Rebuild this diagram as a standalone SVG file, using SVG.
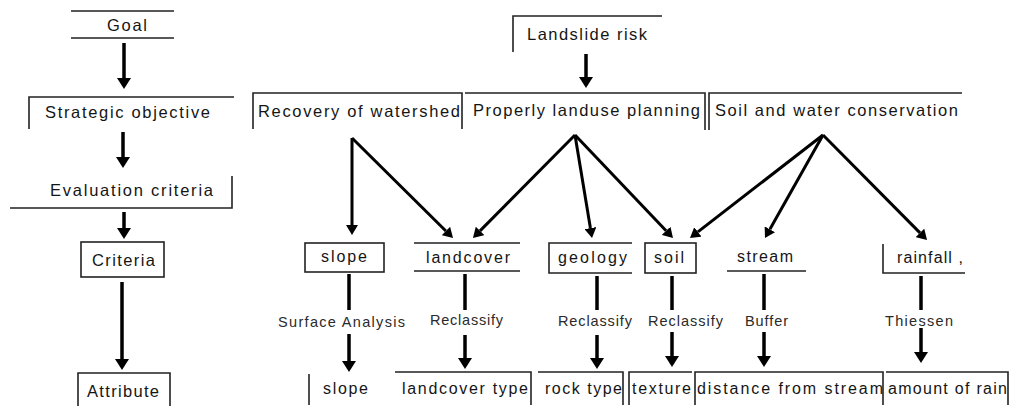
<svg xmlns="http://www.w3.org/2000/svg" width="1010" height="408" viewBox="0 0 1010 408">
<style>
text{font-family:"Liberation Sans",Arial,sans-serif;font-size:16.5px;fill:#151515}
.m{fill:#2a2a2a;font-size:14.5px}
.c{font-size:16px}
.b{fill:none;stroke:#222;stroke-width:1.6}
.a{fill:none;stroke:#000;stroke-width:3.5}
.d{fill:none;stroke:#000;stroke-width:3}
</style>
<defs>
<marker id="ah" markerUnits="userSpaceOnUse" markerWidth="11" markerHeight="14" viewBox="0 0 11 14" refX="0" refY="7" orient="auto"><path d="M0,0 L11,7 L0,14 z" fill="#000"/></marker>
<marker id="ad" markerUnits="userSpaceOnUse" markerWidth="10" markerHeight="12" viewBox="0 0 10 12" refX="0" refY="6" orient="auto"><path d="M0,0 L10,6 L0,12 z" fill="#000"/></marker>
</defs>
<rect width="1010" height="408" fill="#fff"/>

<g id="goal"><path class="b" d="M71,11 H174 M71,38 H174"/><text x="107" y="31" textLength="40" lengthAdjust="spacing">Goal</text></g>
<g id="strategic"><path class="b" d="M29,129 V97 H234"/><text x="45" y="118" textLength="165" lengthAdjust="spacing">Strategic objective</text></g>
<g id="evaluation"><path class="b" d="M10,208 H232 V176"/><text x="50" y="196" textLength="163" lengthAdjust="spacing">Evaluation criteria</text></g>
<g id="criteria"><rect class="b" x="81" y="242" width="83" height="35"/><text x="92" y="266" textLength="63" lengthAdjust="spacing">Criteria</text></g>
<g id="attribute"><path class="b" d="M78,406 V373 H170 V406"/><text x="87" y="397" textLength="72" lengthAdjust="spacing">Attribute</text></g>

<g id="landslide"><path class="b" d="M513,52 V16 H662"/><text x="527" y="40" textLength="120" lengthAdjust="spacing">Landslide risk</text></g>
<g id="recovery"><path class="b" d="M253,129 V93 H462 V129"/><text x="258" y="117" textLength="202" lengthAdjust="spacing">Recovery of watershed</text></g>
<g id="properly"><path class="b" d="M465,93 H705 V130"/><text x="473" y="116" textLength="227" lengthAdjust="spacing">Properly landuse planning</text></g>
<g id="soilwater"><path class="b" d="M709,130 V93 H962"/><text x="715" y="116" textLength="243" lengthAdjust="spacing">Soil and water conservation</text></g>

<g id="slope"><rect class="b" x="305" y="243" width="79" height="29"/><text class="c" x="321" y="262" textLength="46" lengthAdjust="spacing">slope</text></g>
<g id="landcover"><path class="b" d="M414,243 H520 M414,271 H520"/><text class="c" x="426" y="263" textLength="84" lengthAdjust="spacing">landcover</text></g>
<g id="geology"><path class="b" d="M632,243 H549 V273 H632"/><text class="c" x="558" y="263" textLength="69" lengthAdjust="spacing">geology</text></g>
<g id="soil"><rect class="b" x="645" y="243" width="51" height="30"/><text class="c" x="654" y="263" textLength="30" lengthAdjust="spacing">soil</text></g>
<g id="stream"><path class="b" d="M727,271 H806"/><text class="c" x="737" y="262" textLength="56" lengthAdjust="spacing">stream</text></g>
<g id="rainfall"><path class="b" d="M883,244 V273 H965"/><text class="c" x="897" y="263" textLength="66" lengthAdjust="spacing">rainfall ,</text></g>

<g id="slope-attr"><path class="b" d="M309,374 V405"/><text class="c" x="323" y="394" textLength="45" lengthAdjust="spacing">slope</text></g>
<g id="landcover-type"><path class="b" d="M395,372 H531 V405"/><text class="c" x="402" y="394" textLength="126" lengthAdjust="spacing">landcover type</text></g>
<g id="rock-type"><path class="b" d="M538,372 H623 V405"/><text class="c" x="545" y="394" textLength="77" lengthAdjust="spacing">rock type</text></g>
<g id="texture"><path class="b" d="M629,405 V372 H692"/><text class="c" x="632" y="394" textLength="59" lengthAdjust="spacing">texture</text></g>
<g id="distance"><path class="b" d="M695,405 V372 H883 V405"/><text class="c" x="697" y="394" textLength="186" lengthAdjust="spacing">distance from stream</text></g>
<g id="amount"><path class="b" d="M886,372 H1008 V405"/><text class="c" x="888" y="394" textLength="119" lengthAdjust="spacing">amount of rain</text></g>

<g id="methods">
<text class="m" x="278" y="327" textLength="127" lengthAdjust="spacing">Surface Analysis</text>
<text class="m" x="430" y="325" textLength="73" lengthAdjust="spacing">Reclassify</text>
<text class="m" x="558" y="326" textLength="74" lengthAdjust="spacing">Reclassify</text>
<text class="m" x="648" y="326" textLength="75" lengthAdjust="spacing">Reclassify</text>
<text class="m" x="745" y="326" textLength="43" lengthAdjust="spacing">Buffer</text>
<text class="m" x="885" y="326" textLength="68" lengthAdjust="spacing">Thiessen</text>
</g>

<g id="connectors">
<path class="a" d="M124,43 V78" marker-end="url(#ah)"/>
<path class="a" d="M123,132 V157" marker-end="url(#ah)"/>
<path class="a" d="M124,212 V228" marker-end="url(#ah)"/>
<path class="a" d="M122,282 V359" marker-end="url(#ah)"/>
<path class="a" d="M586,54 V77" marker-end="url(#ah)"/>

<path class="d" d="M352,138 V225" marker-end="url(#ad)"/>
<path class="d" d="M352,138 L445.9,231" marker-end="url(#ad)"/>
<path class="d" d="M575,135 L480,230.9" marker-end="url(#ad)"/>
<path class="d" d="M575,135 L590.4,228.1" marker-end="url(#ad)"/>
<path class="d" d="M575,135 L666.1,230.8" marker-end="url(#ad)"/>
<path class="d" d="M823,135 L697.9,231.9" marker-end="url(#ad)"/>
<path class="d" d="M823,135 L769.9,229.3" marker-end="url(#ad)"/>
<path class="d" d="M823,135 L920,232.9" marker-end="url(#ad)"/>

<path class="a" d="M349,274 V310"/>
<path class="a" d="M349,334 V361" marker-end="url(#ah)"/>
<path class="a" d="M465,274 V310"/>
<path class="a" d="M465,335 V358" marker-end="url(#ah)"/>
<path class="a" d="M597,276 V310"/>
<path class="a" d="M597,335 V358" marker-end="url(#ah)"/>
<path class="a" d="M672,276 V310"/>
<path class="a" d="M672,332 V356" marker-end="url(#ah)"/>
<path class="a" d="M764,274 V310"/>
<path class="a" d="M764,332 V356" marker-end="url(#ah)"/>
<path class="a" d="M921,276 V310"/>
<path class="a" d="M921,328 V352" marker-end="url(#ah)"/>
</g>
</svg>
